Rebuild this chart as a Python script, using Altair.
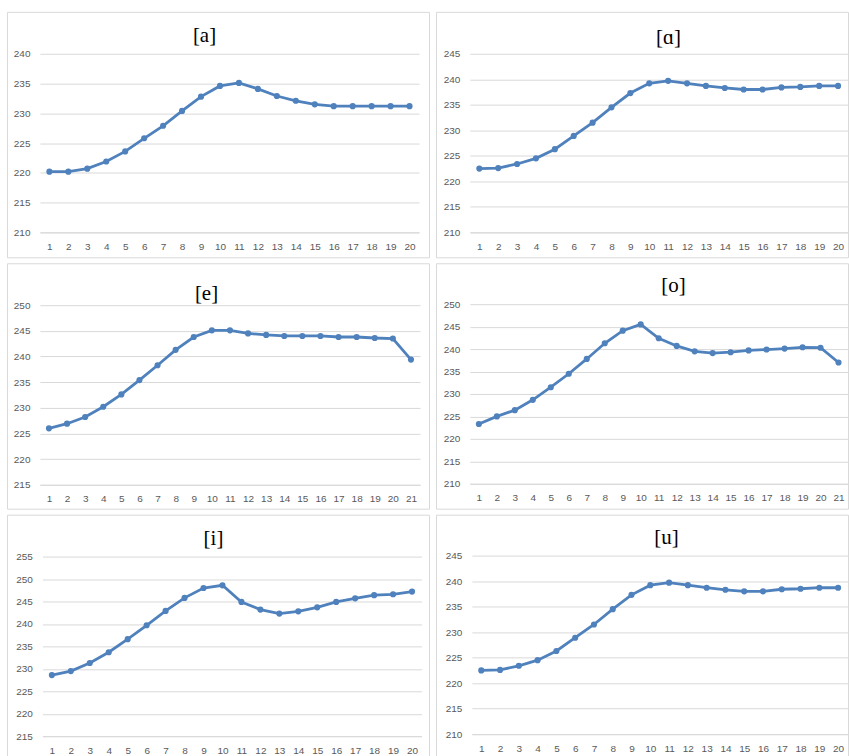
import altair as alt
import pandas as pd

# F0 contours (Hz) for each vowel, sampled at normalised time points
vowel_a = [220.2, 220.2, 220.7, 221.9, 223.6, 225.8, 227.9, 230.4, 232.8, 234.6,
           235.1, 234.1, 232.9, 232.1, 231.5, 231.2, 231.2, 231.2, 231.2, 231.2]
vowel_alpha = [222.5, 222.6, 223.4, 224.5, 226.3, 228.9, 231.5, 234.5, 237.3, 239.2,
               239.7, 239.2, 238.7, 238.3, 238.0, 238.0, 238.4, 238.5, 238.7, 238.7]
vowel_e = [226.0, 226.9, 228.2, 230.2, 232.6, 235.4, 238.3, 241.3, 243.8, 245.1,
           245.1, 244.5, 244.2, 244.0, 244.0, 244.0, 243.8, 243.8, 243.6, 243.5, 239.4]
vowel_o = [223.3, 225.0, 226.4, 228.7, 231.5, 234.5, 237.8, 241.3, 244.1, 245.5,
           242.4, 240.7, 239.5, 239.1, 239.3, 239.7, 239.9, 240.1, 240.4, 240.3, 237.0]
vowel_i = [228.6, 229.5, 231.3, 233.7, 236.6, 239.7, 242.9, 245.8, 248.0, 248.6,
           244.9, 243.2, 242.3, 242.8, 243.7, 244.9, 245.7, 246.4, 246.6, 247.2]
vowel_u = [222.5, 222.6, 223.4, 224.5, 226.3, 228.9, 231.5, 234.5, 237.3, 239.2,
           239.7, 239.2, 238.7, 238.3, 238.0, 238.0, 238.4, 238.5, 238.7, 238.7]

BLUE = "#4F81BD"
GRID = "#D9D9D9"
BORDER = "#D9D9D9"
LABEL = "#595959"
SANS = "Liberation Sans"
SERIF = "Liberation Serif"
TITLE_SHIFT = 20  # title offset is measured from the top of the text box


def panel(label, values, ymin, ymax, width, height, xr, yr, dx, title_y):
    df = pd.DataFrame({"t": list(range(1, len(values) + 1)), "f0": values})
    base = alt.Chart(df).encode(
        x=alt.X(
            "t:O",
            scale=alt.Scale(range=xr, padding=0.5),
            axis=alt.Axis(
                title=None, labelAngle=0, grid=False, ticks=False, tickSize=0,
                domain=True, domainColor=GRID, domainWidth=1,
                labelFont=SANS, labelFontSize=10, labelColor=LABEL,
                labelPadding=9, offset=yr[0] - height,
            ),
        ),
        y=alt.Y(
            "f0:Q",
            scale=alt.Scale(domain=[ymin, ymax], range=yr, nice=False, zero=False),
            axis=alt.Axis(
                title=None, values=list(range(ymin, ymax + 1, 5)),
                grid=True, gridColor=GRID, gridWidth=1,
                ticks=False, tickSize=0, domain=False,
                labelFont=SANS, labelFontSize=10, labelColor=LABEL,
                labelPadding=10, offset=-xr[0],
            ),
        ),
    )
    line = base.mark_line(color=BLUE, strokeWidth=2.8)
    dots = base.mark_circle(color=BLUE, size=38, opacity=1)
    return alt.layer(line, dots).properties(
        width=width,
        height=height,
        view=alt.ViewBackground(stroke=BORDER, strokeWidth=1, fill="white"),
        title=alt.TitleParams(
            text=label, anchor="middle", frame="group", dx=dx,
            offset=-(title_y + TITLE_SHIFT), baseline="alphabetic",
            font=SERIF, fontSize=21, fontWeight="normal", color="#000000",
        ),
    )


LW, RW = 423, 413
p_a = panel("[a]", vowel_a, 210, 240, LW, 246, [33, 413], [221, 42], -13.5, 31)
p_alpha = panel("[ɑ]", vowel_alpha, 210, 245, RW, 246, [34, 412.5], [221, 42], 26.5, 33)
p_e = panel("[e]", vowel_e, 215, 250, LW, 246, [33, 414], [222, 42], -11.5, 38)
p_o = panel("[o]", vowel_o, 210, 250, RW, 246, [34, 412.5], [221, 41], 31.5, 30)
p_i = panel("[i]", vowel_i, 215, 255, LW, 243, [35.5, 415.5], [222, 42], -4.5, 31)
p_u = panel("[u]", vowel_u, 210, 245, RW, 243, [36, 412.5], [220, 41], 24.5, 30)

chart = alt.vconcat(
    alt.hconcat(p_a, p_alpha, spacing=5),
    alt.hconcat(p_e, p_o, spacing=5),
    alt.hconcat(p_i, p_u, spacing=5),
    spacing=4,
).properties(
    padding={"left": 6, "top": 10, "right": 0, "bottom": 0},
    background="white",
)

chart.save("out.html", embed_options={"renderer": "svg", "actions": False})
